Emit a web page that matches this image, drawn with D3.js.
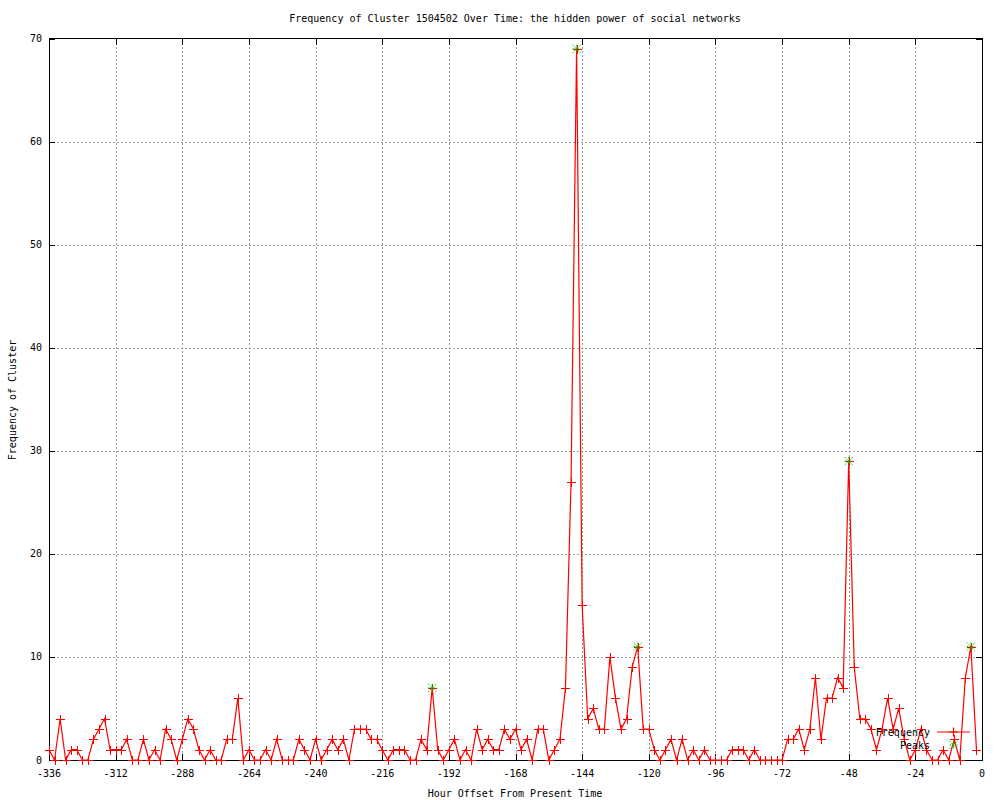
<!DOCTYPE html>
<html>
<head>
<meta charset="utf-8">
<script src="https://cdn.jsdelivr.net/npm/d3@7"></script>
<style>
  html, body { margin: 0; padding: 0; background: #fff; }
  svg text { font-family: "DejaVu Sans Mono", "Liberation Mono", monospace; font-size: 10px; fill: #000; }
</style>
</head>
<body>
<svg id="chart" width="1000" height="800"></svg>
<script>
// ---- data ----
const title = "Frequency of Cluster 1504502 Over Time: the hidden power of social networks";
const xLabel = "Hour Offset From Present Time";
const yLabel = "Frequency of Cluster";
const hours = [
  -336,-334,-332,-330,-328,-326,-324,-322,-320,-318,-316,-314,-312,-310,-308,-306,-304,-302,-300,-298,
  -296,-294,-292,-290,-288,-286,-284,-282,-280,-278,-276,-274,-272,-270,-268,-266,-264,-262,-260,-258,
  -256,-254,-252,-250,-248,-246,-244,-242,-240,-238,-236,-234,-232,-230,-228,-226,-224,-222,-220,-218,
  -216,-214,-212,-210,-208,-206,-204,-202,-200,-198,-196,-194,-192,-190,-188,-186,-184,-182,-180,-178,
  -176,-174,-172,-170,-168,-166,-164,-162,-160,-158,-156,-154,-152,-150,-148,-146,-144,-142,-140,-138,
  -136,-134,-132,-130,-128,-126,-124,-122,-120,-118,-116,-114,-112,-110,-108,-106,-104,-102,-100,-98,
  -96,-94,-92,-90,-88,-86,-84,-82,-80,-78,-76,-74,-72,-70,-68,-66,-64,-62,-60,-58,
  -56,-54,-52,-50,-48,-46,-44,-42,-40,-38,-36,-34,-32,-30,-28,-26,-24,-22,-20,-18,
  -16,-14,-12,-10,-8,-6,-4,-2
];
const frequency = [
  1,0,4,0,1,1,0,0,2,3,4,1,1,1,2,0,0,2,0,1,
  0,3,2,0,2,4,3,1,0,1,0,0,2,2,6,0,1,0,0,1,
  0,2,0,0,0,2,1,0,2,0,1,2,1,2,0,3,3,3,2,2,
  1,0,1,1,1,0,0,2,1,7,1,0,1,2,0,1,0,3,1,2,
  1,1,3,2,3,1,2,0,3,3,0,1,2,7,27,69,15,4,5,3,
  3,10,6,3,4,9,11,3,3,1,0,1,2,0,2,0,1,0,1,0,
  0,0,0,1,1,1,0,1,0,0,0,0,0,2,2,3,1,3,8,2,
  6,6,8,7,29,9,4,4,3,1,3,6,3,5,2,0,1,3,1,0,
  0,1,0,2,0,8,11,1
];
const peakHours = [-198, -146, -124, -48, -4];
const peakValues = [7, 69, 11, 29, 11];
const xTicks = [-336,-312,-288,-264,-240,-216,-192,-168,-144,-120,-96,-72,-48,-24,0];
const yTicks = [0,10,20,30,40,50,60,70];
const seriesNames = ["Frequency", "Peaks"];

// ---- layout ----
const L = 49, R = 982, T = 38.5, B = 760;
const svg = d3.select("#chart");
const x = d3.scaleLinear().domain([-336, 0]).range([L, R]);
const y = d3.scaleLinear().domain([0, 70]).range([B, T]);
const RED = "#ff0000", GREEN = "#00c000";

// grid
const grid = svg.append("g").attr("shape-rendering", "crispEdges")
  .attr("stroke", "#a0a0a0").attr("stroke-dasharray", "2,2").attr("stroke-width", 1);
xTicks.filter(t => t !== -336 && t !== 0).forEach(t => {
  grid.append("line").attr("x1", Math.round(x(t)) + 0.5).attr("x2", Math.round(x(t)) + 0.5)
    .attr("y1", T).attr("y2", B);
});
yTicks.filter(t => t !== 0 && t !== 70).forEach(t => {
  grid.append("line").attr("y1", Math.round(y(t)) + 0.5).attr("y2", Math.round(y(t)) + 0.5)
    .attr("x1", L).attr("x2", R);
});

// axes with inward ticks (mirrored)
const axG = svg.append("g").attr("shape-rendering", "crispEdges").attr("stroke", "#000");
axG.append("rect").attr("x", L + 0.5).attr("y", T).attr("width", R - L).attr("height", B - T)
  .attr("fill", "none");
const tl = 6;
xTicks.forEach(t => {
  const px = Math.round(x(t)) + 0.5;
  axG.append("line").attr("x1", px).attr("x2", px).attr("y1", B).attr("y2", B - tl);
  axG.append("line").attr("x1", px).attr("x2", px).attr("y1", T).attr("y2", T + tl);
});
yTicks.forEach(t => {
  const py = Math.round(y(t)) + 0.5;
  axG.append("line").attr("x1", L).attr("x2", L + tl).attr("y1", py).attr("y2", py);
  axG.append("line").attr("x1", R).attr("x2", R - tl).attr("y1", py).attr("y2", py);
});

// tick labels
xTicks.forEach(t => {
  svg.append("text").attr("x", x(t)).attr("y", 777).attr("text-anchor", "middle").text(t);
});
yTicks.forEach(t => {
  svg.append("text").attr("x", 42).attr("y", y(t) + 3.5).attr("text-anchor", "end").text(t);
});

// titles
svg.append("text").attr("x", 515).attr("y", 22).attr("text-anchor", "middle").text(title);
svg.append("text").attr("x", 515).attr("y", 797).attr("text-anchor", "middle").text(xLabel);
svg.append("text").attr("transform", "translate(16,400) rotate(-90)").attr("text-anchor", "middle").text(yLabel);

// data
const pts = hours.map((h, i) => ({ h, v: frequency[i] }));
const line = d3.line().x(d => x(d.h)).y(d => y(d.v));
svg.append("path").datum(pts).attr("d", line).attr("fill", "none")
  .attr("stroke", RED).attr("stroke-width", 1.2);

function plus(g, cx, cy, s, color) {
  g.append("path").attr("d", `M${cx - s},${cy}H${cx + s}M${cx},${cy - s}V${cy + s}`)
    .attr("stroke", color).attr("stroke-width", 1.2).attr("fill", "none");
}
function star(g, cx, cy, s, color) {
  g.append("path").attr("d",
    `M${cx - s},${cy}H${cx + s}M${cx},${cy - s}V${cy + s}M${cx - s},${cy - s}L${cx + s},${cy + s}M${cx - s},${cy + s}L${cx + s},${cy - s}`)
    .attr("stroke", color).attr("stroke-width", 1).attr("fill", "none").attr("stroke-dasharray", "1.5,1");
}
const ptsG = svg.append("g").attr("shape-rendering", "crispEdges");
pts.forEach(d => plus(ptsG, Math.round(x(d.h)) + 0.5, Math.round(y(d.v)) + 0.5, 4.5, RED));

const peakG = svg.append("g");
peakHours.forEach((h, i) => star(peakG, x(h), y(peakValues[i]), 4, GREEN));
peakHours.forEach((h, i) => plus(ptsG, Math.round(x(h)) + 0.5, Math.round(y(peakValues[i])) + 0.5, 4.5, RED));

// legend
const lg = svg.append("g");
lg.append("text").attr("x", 930).attr("y", 735.5).attr("text-anchor", "end").text(seriesNames[0]);
lg.append("text").attr("x", 930).attr("y", 749).attr("text-anchor", "end").text(seriesNames[1]);
lg.append("line").attr("x1", 937).attr("x2", 970).attr("y1", 732).attr("y2", 732)
  .attr("stroke", RED).attr("stroke-width", 1.2);
plus(lg, 953.5, 732, 4.5, RED);
star(lg, 953.5, 745, 4, GREEN);
</script>
</body>
</html>
